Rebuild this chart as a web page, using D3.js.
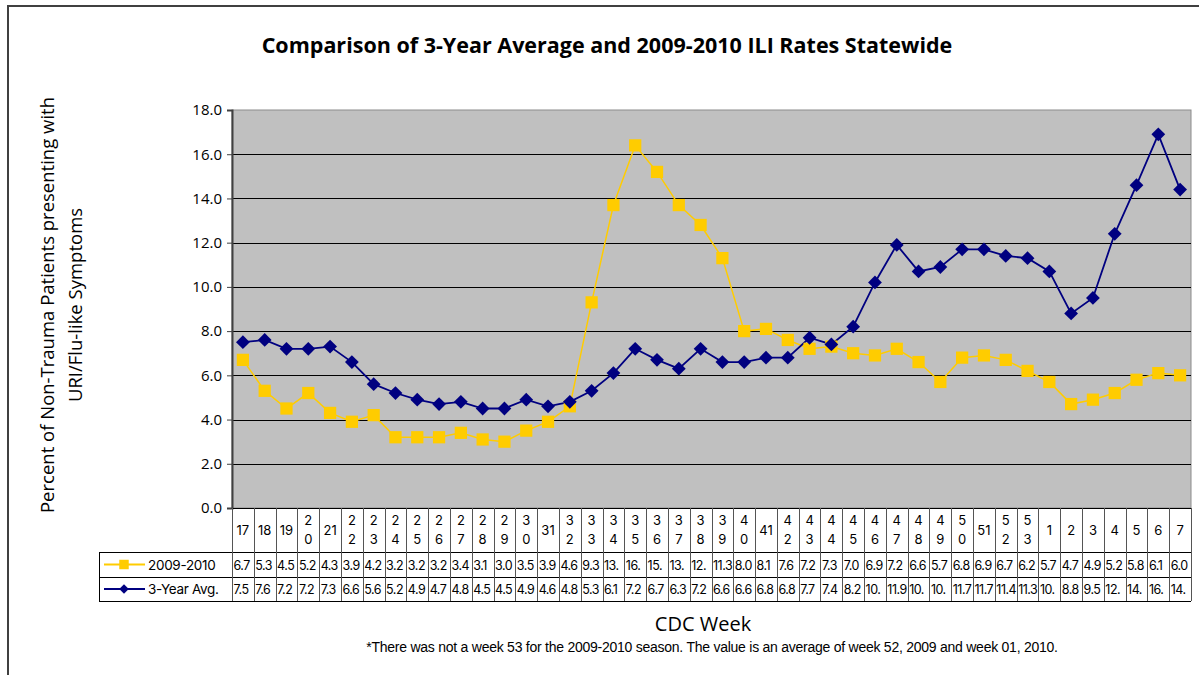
<!DOCTYPE html>
<html>
<meta charset="utf-8">
<style>
body { margin: 0; background: #fff; }
svg { display: block; }
.ytick text { font: 15px "Open Sans", sans-serif; fill: #000; }
.cell { font: 12.5px Inter, "Liberation Sans", Arial, sans-serif; fill: #000; }
</style>
<body>
<svg id="chart" width="1199" height="675"></svg>

<script src="https://d3js.org/d3.v7.min.js"></script>

<script>
// CDC weeks, 17..53 then 1..7
var weeks = ["17","18","19","20","21","22","23","24","25","26","27","28","29","30","31","32","33","34","35","36","37","38","39","40","41","42","43","44","45","46","47","48","49","50","51","52","53","1","2","3","4","5","6","7"];

var season0910 = [6.7,5.3,4.5,5.2,4.3,3.9,4.2,3.2,3.2,3.2,3.4,3.1,3.0,3.5,3.9,4.6,9.3,13.7,16.4,15.2,13.7,12.8,11.3,8.0,8.1,7.6,7.2,7.3,7.0,6.9,7.2,6.6,5.7,6.8,6.9,6.7,6.2,5.7,4.7,4.9,5.2,5.8,6.1,6.0];

var avg3yr = [7.5,7.6,7.2,7.2,7.3,6.6,5.6,5.2,4.9,4.7,4.8,4.5,4.5,4.9,4.6,4.8,5.3,6.1,7.2,6.7,6.3,7.2,6.6,6.6,6.8,6.8,7.7,7.4,8.2,10.2,11.9,10.7,10.9,11.7,11.7,11.4,11.3,10.7,8.8,9.5,12.4,14.6,16.9,14.4];

var yTicks = [0,2,4,6,8,10,12,14,16,18];

var series = [
	{name: "2009-2010", values: season0910, color: "#FFCC00", marker: "square"},
	{name: "3-Year Avg.", values: avg3yr, color: "#000080", marker: "diamond"}
];

var svg = d3.select("#chart");
var plot = {left: 232, right: 1191, top: 110, bottom: 508};
var tableRows = {cat: 552, r1: 577, r2: 601};
var legendLeft = 99;

// outer frame
svg.append("path")
	.attr("d", "M8,675 V6 H1199")
	.attr("fill", "none")
	.attr("stroke", "#404040")
	.attr("stroke-width", 2);

var x = d3.scaleBand()
	.domain(weeks)
	.range([plot.left, plot.right]);

var y = d3.scaleLinear()
	.domain([0, 18])
	.range([plot.bottom, plot.top]);

// plot background
svg.append("rect")
	.attr("x", plot.left)
	.attr("y", plot.top)
	.attr("width", plot.right - plot.left)
	.attr("height", plot.bottom - plot.top)
	.attr("fill", "#C0C0C0")
	.attr("stroke", "#8c8c8c")
	.attr("stroke-width", 1);

// gridlines
svg.append("g")
	.selectAll("line")
	.data(yTicks.slice(1, -1))
	.enter().append("line")
	.attr("x1", plot.left)
	.attr("x2", plot.right)
	.attr("y1", function(d) { return Math.round(y(d)) + 0.5; })
	.attr("y2", function(d) { return Math.round(y(d)) + 0.5; })
	.attr("stroke", "#000")
	.attr("stroke-width", 1);

// y axis
var yAxis = svg.append("g")
	.attr("class", "ytick")
	.attr("transform", "translate(" + plot.left + ",0)")
	.call(d3.axisLeft(y).tickValues(yTicks).tickFormat(d3.format(".1f")).tickSize(5).tickPadding(5));
yAxis.select(".domain").attr("stroke", "#404040").attr("stroke-width", 2);
yAxis.selectAll(".tick line").attr("stroke", "#404040");

// lines + markers
var line = d3.line()
	.x(function(d, i) { return x(weeks[i]) + x.bandwidth() / 2; })
	.y(function(d) { return y(d); });

series.forEach(function(s) {
	svg.append("path")
		.datum(s.values)
		.attr("d", line)
		.attr("fill", "none")
		.attr("stroke", s.color)
		.attr("stroke-width", s.marker == "square" ? 1.5 : 1.8);
});

function markerSym(s, big) {
	if (s.marker == "square") return d3.symbol().type(d3.symbolSquare).size(big ? 150 : 90)();
	return d3.symbol().type(d3.symbolSquare).size(big ? 95 : 45)();
}

series.forEach(function(s) {
	svg.append("g")
		.selectAll("path")
		.data(s.values)
		.enter().append("path")
		.attr("d", markerSym(s, true))
		.attr("transform", function(d, i) {
			var t = "translate(" + (x(weeks[i]) + x.bandwidth() / 2) + "," + y(d) + ")";
			return s.marker == "diamond" ? t + " rotate(45)" : t;
		})
		.attr("fill", s.color);
});

// data table
var tbl = svg.append("g");
var gridStroke = "#000";

[plot.bottom, tableRows.cat, tableRows.r1, tableRows.r2].forEach(function(yy, i) {
	tbl.append("line")
		.attr("x1", i == 0 ? plot.left : legendLeft)
		.attr("x2", plot.right)
		.attr("y1", yy + 0.5).attr("y2", yy + 0.5)
		.attr("stroke", gridStroke);
});
tbl.append("line").attr("x1", legendLeft + 0.5).attr("x2", legendLeft + 0.5)
	.attr("y1", tableRows.cat).attr("y2", tableRows.r2).attr("stroke", gridStroke);
weeks.concat(["end"]).forEach(function(w, i) {
	var xx = i < weeks.length ? x(w) : plot.right;
	tbl.append("line")
		.attr("x1", Math.round(xx) + 0.5).attr("x2", Math.round(xx) + 0.5)
		.attr("y1", plot.bottom).attr("y2", tableRows.r2)
		.attr("stroke", "#555");
});

// category labels, stacked when too wide for the cell
var bw = x.bandwidth();
weeks.forEach(function(w) {
	var cx = x(w) + bw / 2;
	var t = tbl.append("text").attr("class", "cell")
		.attr("x", cx).attr("y", (plot.bottom + tableRows.cat) / 2 + 5)
		.attr("text-anchor", "middle")
		.style("font-size", "13px")
		.text(w);
	if (t.node().getComputedTextLength() > bw - 8) {
		t.remove();
		w.split("").forEach(function(ch, k) {
			tbl.append("text").attr("class", "cell")
				.attr("x", cx).attr("y", plot.bottom + 17 + k * 19)
				.attr("text-anchor", "middle")
				.style("font-size", "13px")
				.text(ch);
		});
	}
});

// value rows, text clipped to cell width
var rowTops = [tableRows.cat, tableRows.r1];
var rowBots = [tableRows.r1, tableRows.r2];
series.forEach(function(s, r) {
	var yy = (rowTops[r] + rowBots[r]) / 2 + 5;
	s.values.forEach(function(v, i) {
		var str = d3.format(".1f")(v);
		var t = tbl.append("text").attr("class", "cell")
			.attr("x", x(weeks[i]) + 1.5).attr("y", yy)
			.style("letter-spacing", "-0.5px")
			.text(str);
		while (t.node().getComputedTextLength() > bw - 1 && str.length > 1) {
			str = str.slice(0, -1);
			t.text(str);
		}
	});

	// legend key
	var ly = yy - 5;
	tbl.append("line").attr("x1", legendLeft + 5).attr("x2", legendLeft + 46)
		.attr("y1", ly).attr("y2", ly).attr("stroke", s.color).attr("stroke-width", 2);
	tbl.append("path").attr("d", markerSym(s, false))
		.attr("transform", "translate(" + (legendLeft + 25) + "," + ly + ")" + (s.marker == "diamond" ? " rotate(45)" : ""))
		.attr("fill", s.color);
	tbl.append("text").attr("class", "cell")
		.attr("x", legendLeft + 49).attr("y", yy)
		.style("font-size", "13.5px")
		.style("letter-spacing", "-0.3px")
		.text(s.name);
});

// titles
svg.append("text")
	.attr("x", 607).attr("y", 53)
	.attr("text-anchor", "middle")
	.style("font", "bold 21.5px 'Open Sans', sans-serif")
	.text("Comparison of 3-Year Average and 2009-2010 ILI Rates Statewide");

var yt = svg.append("text")
	.attr("transform", "translate(0,305) rotate(-90)")
	.attr("text-anchor", "middle")
	.style("font", "18.5px 'Open Sans', sans-serif");
yt.append("tspan").attr("x", 0).attr("y", 54).text("Percent of Non-Trauma Patients presenting with");
yt.append("tspan").attr("x", 0).attr("y", 82).text("URI/Flu-like Symptoms");

svg.append("text")
	.attr("x", 703).attr("y", 631)
	.attr("text-anchor", "middle")
	.style("font", "20px 'Open Sans', sans-serif")
	.text("CDC Week");

svg.append("text")
	.attr("x", 712).attr("y", 652)
	.attr("text-anchor", "middle")
	.style("font", "14px 'Liberation Sans Narrow', 'Liberation Sans', sans-serif")
	.style("letter-spacing", "-0.25px")
	.text("*There was not a week 53 for the 2009-2010 season. The value is an average of week 52, 2009 and week 01, 2010.");
</script>
</body>
</html>
